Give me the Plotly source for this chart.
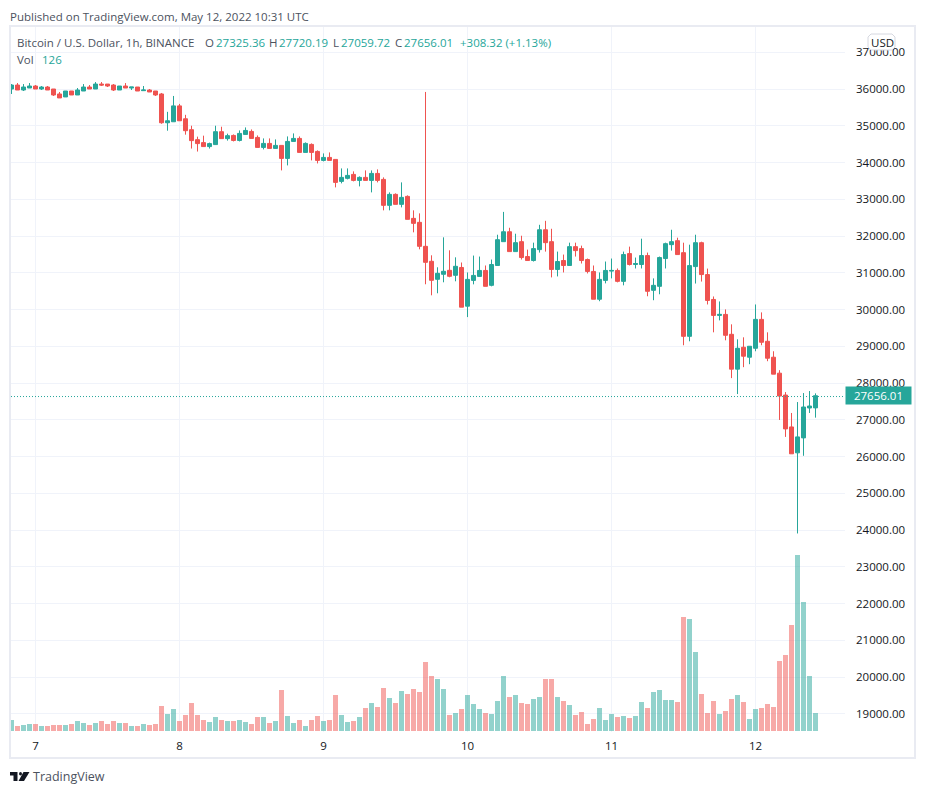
import pandas as pd
import plotly.graph_objects as go

START = "2022-05-06 20:00"

opens = [36000,36108,35973,36027,36081,36000,36054,36000,35865,35784,35946,35838,35946,36054,36000,36135,36135,36108,35973,36081,36027,36054,35955,35973,35946,35865,35082,35109,35541,35190,34893,34623,34542,34434,34488,34839,34650,
 34737,34601,34764,34846,34683,34411,34520,34384,34466,34112,34574,34656,34275,34493,34302,34058,34139,34085,33487,33569,33677,33514,33596,33514,33704,33541,32835,33134,32862,33079,32481,32373,31720,31313,30823,30959,31068,30932,
 31145,30092,30794,30902,31064,30659,31199,31847,32117,31577,31847,31442,31334,31631,32171,31847,31091,31334,31199,31712,31658,31361,31037,30281,30794,31046,31064,30767,31523,31226,31226,31469,30524,30632,31388,31766,31874,
 31548,29272,31169,31819,30952,30275,29841,29868,29327,28379,28974,28704,28947,29733,29137,28704,28270,27674,26807,26103,26509,27322,27325.36]
highs = [36135,36162,36135,36162,36108,36081,36081,36000,35919,35946,35946,36027,36135,36108,36189,36189,36135,36135,36081,36162,36054,36054,36081,36000,35946,35892,35379,35811,35595,35298,35001,34704,34731,34542,35001,34974,34785,
 34764,34873,34955,34900,34737,34656,34656,34629,34466,34710,34792,34710,34547,34520,34330,34248,34275,34085,33840,33840,33759,33623,33786,33786,33813,33596,33188,33161,33460,33107,32699,32617,35920,31476,31150,31965,31612,31421,
 31280,31010,31469,31442,31199,31361,32036,32657,32225,32063,32009,31631,31820,32306,32414,32198,31577,31496,31820,31820,31739,31388,31199,31010,31307,31388,31118,31577,31712,31415,31928,31550,30848,31442,31820,32171,31955,
 31819,31765,32036,31846,31115,30356,30221,30004,29598,29191,29245,29002,30139,29923,29381,28866,28351,27755,27187,27484,27729,27783,27720.19]
lows = [35865,35973,35946,36027,36000,35973,35973,35811,35757,35784,35838,35838,35946,36000,36000,36081,36054,35946,35973,36027,35973,35946,35946,35919,35811,35055,34866,35109,35136,34758,34380,34299,34434,34380,34488,34650,34596,
 34574,34574,34764,34656,34411,34357,34384,34384,33786,33922,34574,34275,34275,34058,33976,34031,34058,33324,33433,33541,33487,33351,33514,33188,33460,32699,32699,32862,32780,32454,32101,31639,30688,30388,30443,30742,30878,30769,
 30065,29795,30686,30902,30632,30632,31199,31847,31577,31577,31361,31334,31307,31550,31577,30875,30902,31010,31199,31442,31253,30983,30281,30227,30713,30848,30740,30659,31199,31118,31118,30362,30254,30416,31118,31604,31496,
 29029,29137,30708,30762,30139,29381,29706,29164,28135,27701,28433,28514,28866,29029,28595,28243,26997,26536,26076,23909,26022,27187,27059.72]
closes = [36108,35973,36054,36081,36000,36054,35973,35838,35757,35946,35838,35973,36054,36000,36135,36108,36081,35973,36081,36027,36054,35946,35973,35919,35838,35082,35136,35541,35136,34866,34596,34515,34434,34515,34839,34650,34731,
 34601,34792,34873,34656,34411,34520,34384,34466,34112,34574,34656,34275,34520,34275,34058,34139,34058,33460,33596,33650,33514,33596,33514,33704,33514,32835,33134,32862,33052,32454,32345,31720,31285,30796,30986,31041,30905,31177,
 30065,30821,30929,31064,30632,31226,31901,32117,31577,31820,31415,31334,31658,32171,31820,31091,31307,31199,31712,31604,31334,31037,30281,30821,31064,31064,30767,31496,31226,31253,31469,30497,30659,31415,31793,31847,31496,
 29272,31196,31819,30952,30248,29841,29868,29300,28379,28947,28731,29002,29733,29110,28676,28243,27647,26753,26076,26536,27349,27376,27656.01]
volumes = [77,35,42,49,49,35,35,42,42,42,49,70,56,42,56,70,49,70,56,56,35,35,49,42,49,175,119,154,70,112,196,112,77,63,98,77,70,70,77,63,49,98,98,56,70,287,105,
 56,77,35,77,105,70,77,252,112,63,70,98,161,196,168,301,231,196,280,259,294,273,483,385,364,294,112,126,154,252,189,154,126,119,210,385,238,252,196,189,224,238,364,364,
 238,210,182,112,133,49,84,161,77,119,98,105,91,105,203,161,273,287,217,217,203,798,784,553,259,126,210,119,140,224,252,203,84,154,161,189,168,490,532,742,1232,903,385,126]
day_ticks = ["2022-05-07", "2022-05-08", "2022-05-09", "2022-05-10", "2022-05-11", "2022-05-12"]
day_labels = ["7", "8", "9", "10", "11", "12"]
price_ticks = list(range(19000, 38000, 1000))
last_price = 27656.01
header_letters = ["O", "H", "L", "C"]
header_values = ["27325.36", "27720.19", "27059.72", "27656.01"]
header_change = "+308.32 (+1.13%)"

times = pd.date_range(START, periods=len(closes), freq="h")

GREEN, RED = "#26a69a", "#ef5350"
TEXT, GRID, BORDER = "#131722", "#f0f3fa", "#e9ebf2"
FONT = "Open Sans"
FS = 11.5
W, H = 926, 794
L, R, T, B = 11, 845, 27, 732
DOT_NUDGE = 22  # keeps the 1px dotted line on a whole pixel row


def px(x):
    return (x - L) / (R - L)


def py(y):
    return (B - y) / (B - T)


def poly(pts):
    return "M " + " L ".join(f"{px(a):.5f},{py(b):.5f}" for a, b in pts) + " Z"


fig = go.Figure()
fig.add_trace(go.Bar(
    x=times, y=volumes, yaxis="y2",
    marker=dict(color=["rgba(38,166,154,0.5)" if c >= o else "rgba(239,83,80,0.5)" for o, c in zip(opens, closes)], line_width=0),
    hoverinfo="skip", showlegend=False))
fig.add_trace(go.Candlestick(
    x=times, open=opens, high=highs, low=lows, close=closes, whiskerwidth=0,
    increasing=dict(line=dict(color=GREEN, width=1), fillcolor=GREEN),
    decreasing=dict(line=dict(color=RED, width=1), fillcolor=RED),
    showlegend=False))

shapes = [
    dict(type="rect", xref="paper", yref="paper", x0=px(10), x1=px(915), y0=py(758), y1=py(26),
         line=dict(color=BORDER, width=2), layer="below"),
    dict(type="line", xref="paper", yref="y", x0=0, x1=1, y0=last_price - DOT_NUDGE, y1=last_price - DOT_NUDGE,
         line=dict(color=GREEN, width=1, dash="1px,2px")),
    dict(type="path", xref="paper", yref="paper", fillcolor="#ffffff", line=dict(color="#d6d8e0", width=1),
         path=poly([(871, 34), (892, 34), (895, 37), (895, 47), (892, 50), (871, 50), (868, 47), (868, 37)])),
    dict(type="path", xref="paper", yref="paper", fillcolor=TEXT, line_width=0,
         path=poly([(10, 772), (17.5, 772), (17.5, 781), (13.5, 781), (13.5, 775.5), (10, 775.5)])),
    dict(type="path", xref="paper", yref="paper", fillcolor=TEXT, line_width=0,
         path=poly([(23.5, 772), (29.5, 772), (24, 781), (18.5, 781)])),
    dict(type="circle", xref="paper", yref="paper", fillcolor=TEXT, line_width=0,
         x0=px(19), x1=px(22), y0=py(775.5), y1=py(772)),
]


def note(text, x, y, color="#4c525e", size=FS):
    return dict(text=text, xref="paper", yref="paper", x=px(x - 2), y=py(y), xanchor="left", yanchor="middle",
                showarrow=False, font=dict(family=FONT, size=size, color=color))


annotations = [
    note("Published on TradingView.com, May 12, 2022 10:31 UTC", 10, 16),
    note("Bitcoin / U.S. Dollar, 1h, BINANCE", 17, 42),
    note("Vol", 17, 60),
    note("126", 42, 60, GREEN),
    note("USD", 871, 42, TEXT),
    note("TradingView", 33, 776, "#4c525e", 12.5),
    note(header_change, 460, 42, GREEN),
    dict(text="27656.01", xref="paper", yref="y", x=px(878.5), y=last_price, xanchor="center", yanchor="middle",
         showarrow=False, bgcolor=GREEN, borderpad=1, width=63,
         font=dict(family=FONT, size=FS, color="#ffffff")),
]
for letter, value, xl, xv in zip(header_letters, header_values, [205, 269, 333, 395], [216, 279, 341, 404]):
    annotations.append(note(letter, xl, 42))
    annotations.append(note(value, xv, 42, GREEN))

fig.update_layout(
    width=W, height=H, autosize=False, paper_bgcolor="#ffffff", plot_bgcolor="#ffffff",
    margin=dict(l=L, r=W - R, t=T, b=H - B, pad=0),
    font=dict(family=FONT, size=FS, color=TEXT),
    bargap=1 / 6, boxgap=1 / 3, boxgroupgap=0, showlegend=False, shapes=shapes, annotations=annotations,
    xaxis=dict(type="date", range=["2022-05-06 19:55", "2022-05-12 14:55"], tickvals=day_ticks, ticktext=day_labels,
               showgrid=True, gridcolor=GRID, gridwidth=1, showline=False, zeroline=False, ticks="",
               ticklabelstandoff=5,
               rangeslider=dict(visible=False), tickfont=dict(family=FONT, size=FS, color=TEXT)),
    yaxis=dict(side="right", range=[18508, 37687], tickvals=price_ticks, tickformat=".2f",
               showgrid=True, gridcolor=GRID, gridwidth=1, showline=False, zeroline=False, ticks="",
               ticklabelstandoff=10, tickfont=dict(family=FONT, size=FS, color=TEXT)),
    yaxis2=dict(overlaying="y", side="left", range=[-7, 4928], showgrid=False, showticklabels=False,
                zeroline=False, showline=False),
)
fig.write_html("out.html", post_script="document.body.style.margin='0';document.body.style.overflow='hidden';",
               config=dict(displayModeBar=False))
